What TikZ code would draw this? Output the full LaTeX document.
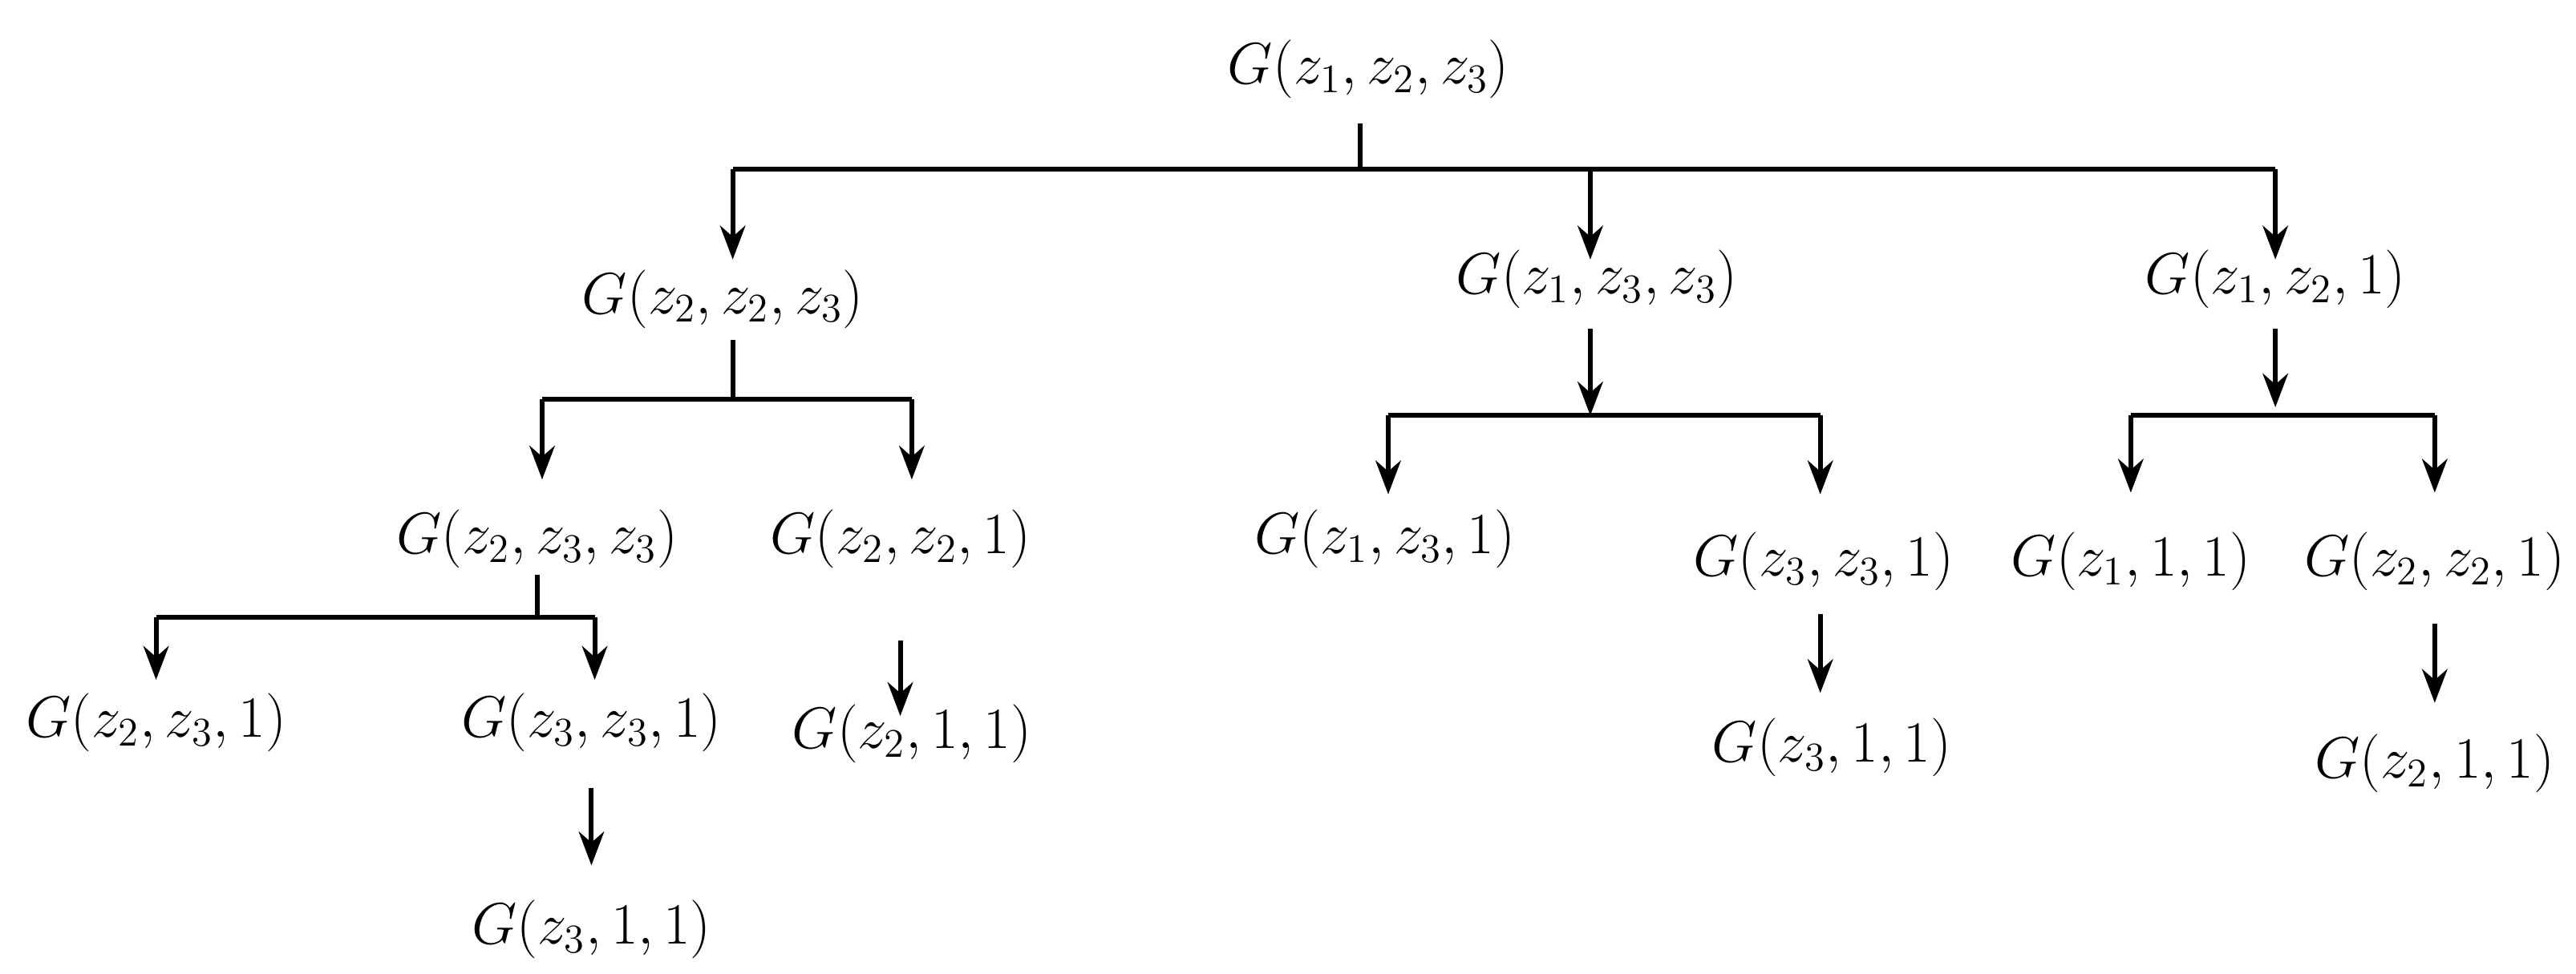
\documentclass[tikz,border=0pt]{standalone}
\usetikzlibrary{arrows.meta}
\begin{document}
\begin{tikzpicture}[x=0.02049cm,y=-0.02049cm,
  lbl/.style={font=\fontsize{22}{26}\selectfont,inner sep=2pt},
  ln/.style={line width=1.7pt},
  ar/.style={line width=1.7pt,-{Stealth[length=12pt,width=9pt]}}]
\useasboundingbox (0,0) rectangle (1568,593);
\node[lbl] (r) at (833,42) {$G(z_1,z_2,z_3)$};
\node[lbl] (a) at (440,182) {$G(z_2,z_2,z_3)$};
\node[lbl] (b) at (972,170) {$G(z_1,z_3,z_3)$};
\node[lbl] (c) at (1385,170) {$G(z_1,z_2,1)$};
\node[lbl] (aa) at (327,328) {$G(z_2,z_3,z_3)$};
\node[lbl] (ab) at (548,328) {$G(z_2,z_2,1)$};
\node[lbl] (aaa) at (95,440) {$G(z_2,z_3,1)$};
\node[lbl] (aab) at (360,440) {$G(z_3,z_3,1)$};
\node[lbl] (aabb) at (360,566) {$G(z_3,1,1)$};
\node[lbl] (abb) at (555,447) {$G(z_2,1,1)$};
\node[lbl] (ba) at (843,328) {$G(z_1,z_3,1)$};
\node[lbl] (bb) at (1110,342) {$G(z_3,z_3,1)$};
\node[lbl] (bbb) at (1115,455) {$G(z_3,1,1)$};
\node[lbl] (ca) at (1297,342) {$G(z_1,1,1)$};
\node[lbl] (cb) at (1482,342) {$G(z_2,z_2,1)$};
\node[lbl] (cbb) at (1482,465) {$G(z_2,1,1)$};
% root
\coordinate (r0) at (828,75); \coordinate (r1) at (828,103);
\coordinate (rl) at (446,103); \coordinate (rr) at (1385,103); \coordinate (rm) at (968,103);
\draw[ln] (r0) -- (r1); \draw[ln] (rl) -- (rr);
\draw[ar] (rl) -- (446,158); \draw[ar] (rm) -- (968,158); \draw[ar] (rr) -- (1385,158);
% a
\coordinate (a0) at (446,207); \coordinate (a1) at (446,243);
\coordinate (al) at (330,243); \coordinate (arr) at (555,243);
\draw[ln] (a0) -- (a1); \draw[ln] (al) -- (arr);
\draw[ar] (al) -- (330,292); \draw[ar] (arr) -- (555,292);
% aa
\coordinate (aa0) at (327,350); \coordinate (aa1) at (327,376);
\coordinate (aal) at (95,376); \coordinate (aar) at (362,376);
\draw[ln] (aa0) -- (aa1); \draw[ln] (aal) -- (aar);
\draw[ar] (aal) -- (95,414); \draw[ar] (aar) -- (362,414);
\draw[ar] (360,480) -- (360,527);
\draw[ar] (548,390) -- (548,436);
% b
\coordinate (b1) at (968,253); \coordinate (bl) at (845,253); \coordinate (br) at (1108,253);
\draw[ar] (968,200) -- (b1); \draw[ln] (bl) -- (br);
\draw[ar] (bl) -- (845,301); \draw[ar] (br) -- (1108,301);
\draw[ar] (1108,374) -- (1108,422);
% c
\coordinate (c1) at (1385,248); \coordinate (cl) at (1297,253); \coordinate (cr) at (1482,253);
\draw[ar] (1385,200) -- (c1); \draw[ln] (cl) -- (cr);
\draw[ar] (cl) -- (1297,300); \draw[ar] (cr) -- (1482,300);
\draw[ar] (1482,380) -- (1482,428);
\end{tikzpicture}
\end{document}
